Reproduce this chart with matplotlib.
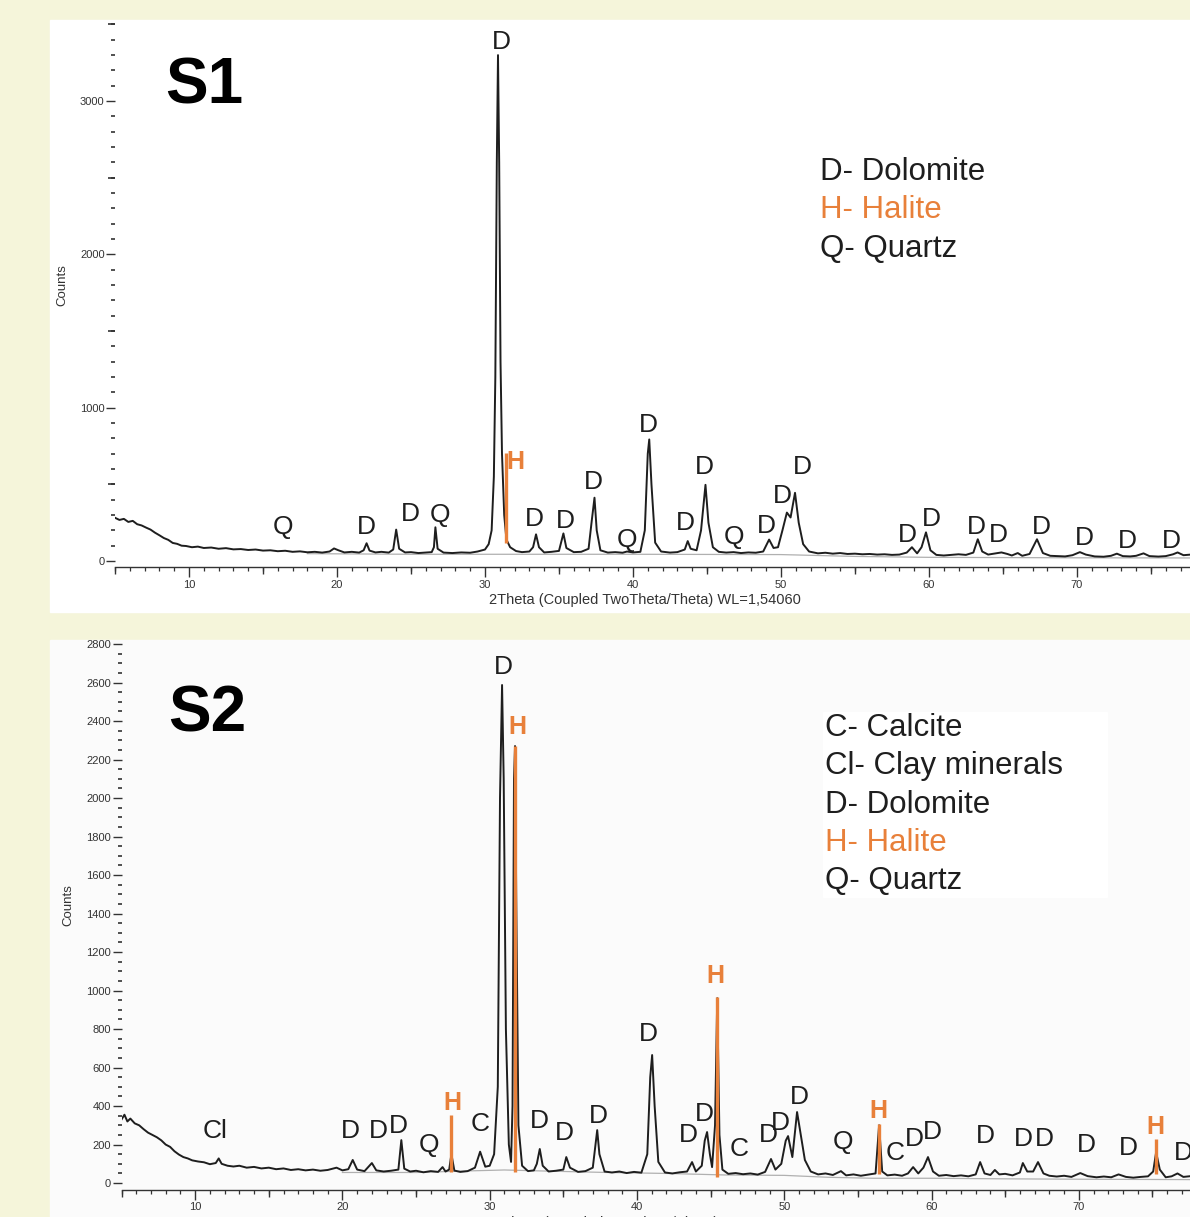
import matplotlib
matplotlib.use("Agg")
import matplotlib.pyplot as plt
from matplotlib.patches import Rectangle
from matplotlib.ticker import MultipleLocator

plt.rcParams['font.family'] = ['Liberation Sans', 'DejaVu Sans']

# ---- S1 trace (2theta, counts) ----
s1_theta = [5.0, 5.3, 5.6, 5.9, 6.2, 6.5, 6.8, 7.1, 7.4, 7.7, 8.0, 8.3, 8.6, 8.9, 9.2, 9.5, 9.8,
            10.2, 10.6, 11.0, 11.5, 12.0, 12.5, 13.0, 13.5, 14.0, 14.5, 15.0, 15.5, 16.0, 16.5,
            17.0, 17.5, 18.0, 18.5, 19.0, 19.5, 19.8, 20.1, 20.5, 21.0, 21.5, 21.8, 22.0, 22.2,
            22.6, 23.0, 23.5, 23.8, 24.0, 24.2, 24.6, 25.0, 25.5, 26.0, 26.4, 26.55, 26.65, 26.8,
            27.2, 27.8, 28.4, 29.0, 29.5, 30.0, 30.25, 30.45, 30.6, 30.7, 30.8, 30.88, 30.96,
            31.05, 31.15, 31.3, 31.45, 31.7, 32.1, 32.5, 33.0, 33.25, 33.45, 33.65, 34.0, 34.5,
            35.0, 35.3, 35.5, 36.0, 36.5, 37.0, 37.2, 37.4, 37.55, 37.8, 38.3, 38.8, 39.3, 39.6,
            40.0, 40.5, 40.8, 41.0, 41.1, 41.25, 41.5, 41.9, 42.5, 43.0, 43.5, 43.7, 43.9, 44.3,
            44.6, 44.9, 45.1, 45.4, 45.8, 46.3, 46.8, 47.3, 47.8, 48.3, 48.8, 49.2, 49.5, 49.8,
            50.1, 50.4, 50.65, 50.95, 51.2, 51.5, 51.9, 52.5, 53.0, 53.5, 54.0, 54.5, 55.0, 55.5,
            56.0, 56.5, 57.0, 57.5, 58.0, 58.5, 58.85, 59.2, 59.5, 59.8, 60.1, 60.5, 61.0, 61.5,
            62.0, 62.5, 63.0, 63.3, 63.6, 64.0, 64.5, 64.9, 65.3, 65.6, 66.0, 66.3, 66.8, 67.3,
            67.7, 68.2, 68.7, 69.2, 69.7, 70.2, 70.6, 71.2, 71.8, 72.3, 72.7, 73.1, 73.6, 74.0,
            74.5, 74.9, 75.5, 76.0, 76.5, 76.8, 77.2, 77.7]
s1_counts = [282, 268, 275, 255, 262, 240, 232, 218, 205, 185, 168, 150, 138, 118, 112, 100, 98,
             90, 94, 85, 88, 80, 84, 76, 78, 72, 75, 68, 70, 64, 67,
             60, 63, 57, 60, 55, 62, 82, 70, 56, 60, 55, 70, 116, 68,
             56, 60, 55, 75, 205, 80, 56, 58, 52, 55, 58, 90, 220, 80,
             55, 52, 56, 54, 62, 75, 110, 200, 550, 1200, 2600, 3300, 2600,
             1300, 700, 300, 140, 90, 65, 58, 62, 90, 174, 90, 56, 60,
             66, 180, 85, 58, 60, 80, 250, 413, 200, 70, 55, 58, 54, 62,
             56, 60, 200, 700, 793, 500, 120, 62, 55, 58, 75, 130, 80, 70,
             200, 497, 250, 90, 60, 55, 58, 52, 56, 54, 62, 140, 85, 90,
             200, 316, 284, 445, 250, 110, 62, 50, 54, 48, 52, 46, 48, 44,
             46, 42, 44, 40, 42, 55, 90, 50, 90, 187, 70, 40, 36, 40,
             44, 40, 55, 142, 62, 42, 50, 56, 46, 36, 52, 34, 46, 142,
             52, 34, 32, 30, 38, 58, 42, 30, 28, 34, 48, 32, 30, 34,
             50, 32, 29, 32, 44, 56, 38, 42]
s1_bg_theta = [18, 25, 30, 40, 50, 55, 60, 70, 77.7]
s1_bg_counts = [48, 44, 44, 44, 42, 30, 24, 21, 20]
s1_halite = [(31.42, 117, 704)]
s1_labels = [("D", 31.1, 3386), ("Q", 16.35, 222), ("D", 21.96, 222), ("D", 24.93, 307),
             ("Q", 26.96, 300), ("H", 32.03, 646), ("D", 33.31, 274), ("D", 35.41, 261),
             ("D", 37.30, 515), ("Q", 39.59, 137), ("D", 41.01, 887), ("D", 43.51, 248),
             ("D", 44.80, 613), ("Q", 46.82, 157), ("D", 48.99, 228), ("D", 50.07, 424),
             ("D", 51.42, 613), ("D", 58.51, 170), ("D", 60.14, 275), ("D", 63.20, 222),
             ("D", 64.66, 170), ("D", 67.57, 222), ("D", 70.47, 150), ("D", 73.38, 130),
             ("D", 76.35, 130)]
s1_legend = [("D- Dolomite", "k"), ("H- Halite", "h"), ("Q- Quartz", "k")]

# ---- S2 trace ----
s2_theta = [5.0, 5.2, 5.4, 5.6, 5.9, 6.2, 6.5, 6.8, 7.1, 7.4, 7.7, 8.0, 8.3, 8.6, 8.9, 9.2, 9.5,
            9.8, 10.2, 10.6, 11.0, 11.4, 11.6, 11.8, 12.2, 12.6, 13.0, 13.5, 14.0, 14.5, 15.0,
            15.5, 16.0, 16.5, 17.0, 17.5, 18.0, 18.5, 19.0, 19.6, 20.0, 20.4, 20.7, 21.0, 21.5,
            22.0, 22.3, 22.8, 23.3, 23.8, 24.0, 24.2, 24.6, 25.0, 25.5, 26.0, 26.5, 26.8, 27.0,
            27.25, 27.4, 27.6, 28.0, 28.5, 29.0, 29.35, 29.7, 30.0, 30.3, 30.55, 30.7, 30.84,
            30.95, 31.1, 31.3, 31.45, 31.55, 31.65, 31.72, 31.8, 31.95, 32.2, 32.6, 33.0, 33.2,
            33.4, 33.6, 34.0, 34.5, 35.0, 35.2, 35.45, 36.0, 36.5, 37.0, 37.15, 37.3, 37.45,
            37.8, 38.3, 38.8, 39.3, 39.8, 40.3, 40.7, 40.9, 41.03, 41.2, 41.45, 41.9, 42.4, 42.9,
            43.4, 43.74, 44.0, 44.4, 44.6, 44.76, 44.95, 45.1, 45.3, 45.45, 45.6, 45.8, 46.2,
            46.7, 47.2, 47.7, 48.2, 48.7, 49.1, 49.4, 49.8, 50.1, 50.26, 50.55, 50.87, 51.1,
            51.4, 51.8, 52.3, 52.8, 53.3, 53.85, 54.2, 54.7, 55.2, 55.7, 56.2, 56.44, 56.65,
            57.0, 57.5, 58.0, 58.4, 58.75, 59.1, 59.45, 59.76, 60.1, 60.5, 61.0, 61.5, 62.0,
            62.5, 63.0, 63.3, 63.6, 64.0, 64.3, 64.6, 65.0, 65.5, 66.0, 66.2, 66.5, 66.9, 67.23,
            67.6, 68.0, 68.5, 69.0, 69.5, 70.1, 70.6, 71.2, 71.7, 72.2, 72.7, 73.2, 73.7, 74.2,
            74.7, 75.05, 75.25, 75.5, 75.9, 76.3, 76.7, 77.1, 77.6]
s2_counts = [330, 355, 320, 335, 310, 300, 280, 262, 250, 238, 222, 200, 188, 165, 148, 135, 128,
             118, 112, 108, 98, 104, 128, 100, 90, 86, 90, 80, 84, 76, 80,
             72, 76, 68, 72, 66, 70, 64, 68, 80, 66, 72, 120, 70, 62,
             104, 66, 60, 64, 70, 223, 75, 60, 64, 56, 62, 58, 83, 60,
             70, 150, 65, 58, 62, 80, 163, 85, 90, 150, 500, 2000, 2587,
             2100, 800, 200, 110, 400, 2100, 2270, 1500, 300, 90, 62, 66, 100,
             177, 90, 60, 64, 70, 135, 80, 58, 62, 80, 180, 275, 150,
             60, 55, 60, 52, 58, 54, 150, 550, 665, 400, 110, 55, 50, 56,
             60, 109, 60, 90, 220, 265, 150, 83, 300, 960, 250, 70, 48,
             52, 46, 50, 44, 58, 125, 70, 100, 220, 244, 135, 369, 260,
             120, 60, 45, 50, 42, 62, 40, 45, 38, 44, 50, 300, 60,
             40, 44, 38, 50, 83, 50, 80, 135, 60, 38, 42, 36, 40,
             35, 45, 109, 50, 42, 68, 45, 48, 40, 55, 104, 60, 60, 109,
             50, 38, 34, 38, 32, 52, 36, 30, 34, 30, 45, 32, 28, 32,
             35, 60, 160, 70, 30, 35, 50, 32, 36]
s2_bg_theta = [20, 25, 28, 31, 34, 38, 42, 46, 50, 53, 56, 60, 65, 70, 77.6]
s2_bg_counts = [55, 55, 62, 68, 62, 55, 50, 42, 40, 30, 25, 25, 22, 20, 18]
s2_halite = [(27.4, 60, 355), (31.72, 60, 2270), (45.45, 31, 969), (56.44, 45, 306), (75.24, 45, 228)]
s2_labels = [("D", 30.91, 2681), ("H", 31.86, 2369), ("Cl", 11.36, 270), ("D", 20.52, 270),
             ("D", 22.42, 270), ("D", 23.78, 296), ("Q", 25.89, 197), ("H", 27.45, 416),
             ("C", 29.35, 306), ("D", 33.35, 322), ("D", 35.05, 260), ("D", 37.36, 348),
             ("D", 40.75, 774), ("D", 43.47, 249), ("D", 44.56, 358), ("H", 45.30, 1075),
             ("C", 46.93, 177), ("D", 48.90, 249), ("D", 49.71, 312), ("D", 51.0, 447),
             ("Q", 53.99, 213), ("H", 56.37, 374), ("C", 57.52, 156), ("D", 58.81, 229),
             ("D", 60.03, 265), ("D", 63.63, 244), ("D", 66.21, 229), ("D", 67.64, 229),
             ("D", 70.49, 197), ("D", 73.34, 182), ("H", 75.17, 291), ("D", 77.07, 156)]
s2_legend = [("C- Calcite", "k"), ("Cl- Clay minerals", "k"), ("D- Dolomite", "k"),
             ("H- Halite", "h"), ("Q- Quartz", "k")]

ORANGE = '#e8803a'
INK = '#1e1e1e'
W, H = 1190, 1217


def fx(px):
    return px / W


def fy(py):
    return 1 - py / H


fig = plt.figure(figsize=(W / 100, H / 100), dpi=100)
fig.patch.set_facecolor('#f5f5da')
fig.add_artist(Rectangle((fx(50), fy(612)), 1 - fx(50), fy(20) - fy(612),
                         transform=fig.transFigure, color='white', zorder=0))
fig.add_artist(Rectangle((fx(50), 0), 1 - fx(50), fy(640),
                         transform=fig.transFigure, color='#fbfbfb', zorder=0))
fig.add_artist(Rectangle((fx(823), fy(897)), fx(1107) - fx(823), fy(712) - fy(897),
                         transform=fig.transFigure, color='white', zorder=0))


def setup(ax, xlim, ylim, ymaj, ymin, ymid=None):
    ax.set_facecolor('none')
    ax.set_xlim(*xlim)
    ax.set_ylim(*ylim)
    for s in ['top', 'right', 'left']:
        ax.spines[s].set_visible(False)
    ax.spines['bottom'].set_color('#333333')
    ax.spines['bottom'].set_linewidth(1.0)
    ax.xaxis.set_major_locator(MultipleLocator(10))
    ax.xaxis.set_minor_locator(MultipleLocator(1))
    ax.yaxis.set_major_locator(MultipleLocator(ymaj))
    ax.yaxis.set_minor_locator(MultipleLocator(ymin))
    ax.tick_params(axis='x', which='major', length=7, width=1, pad=2, labelsize=8,
                   colors='#333333')
    ax.tick_params(axis='x', which='minor', length=3, width=0.9, colors='#333333')
    ax.tick_params(axis='y', which='major', length=6.5, width=1, pad=1, labelsize=8,
                   colors='#333333')
    ax.tick_params(axis='y', which='minor', length=3, width=1.2, colors='#333333')
    secx = ax.secondary_xaxis('bottom')
    secx.spines['bottom'].set_visible(False)
    secx.set_xticks([v for v in range(5, 80, 10)])
    secx.tick_params(length=5, width=1, labelbottom=False, colors='#333333')
    if ymid is not None:
        secy = ax.secondary_yaxis('left')
        secy.spines['left'].set_visible(False)
        secy.set_yticks(ymid)
        secy.tick_params(length=5, width=1.2, labelleft=False, colors='#333333')


def draw(ax, th, ct, bth, bct, halite, labels):
    ax.plot(bth, bct, color='#b0b0b0', lw=0.9, zorder=2)
    ax.plot(th, ct, color=INK, lw=1.4, zorder=3)
    for x, y0, y1 in halite:
        ax.vlines(x, y0, y1, color=ORANGE, lw=2.4, zorder=4)
    for t, x, y in labels:
        if t == 'H':
            ax.text(x, y, t, ha='center', va='center', fontsize=18, fontweight='bold',
                    color=ORANGE, zorder=5)
        else:
            ax.text(x, y, t, ha='center', va='center', fontsize=19, color=INK, zorder=5)


# panel S1
ax1 = fig.add_axes([fx(115), fy(567), 1 - fx(115), fy(24) - fy(567)])
setup(ax1, (5.0, 77.64), (-39, 3503), 1000, 100, [500, 1500, 2500, 3500])
draw(ax1, s1_theta, s1_counts, s1_bg_theta, s1_bg_counts, s1_halite, s1_labels)

# panel S2
ax2 = fig.add_axes([fx(121.5), fy(1190), 1 - fx(121.5), fy(644) - fy(1190)])
setup(ax2, (5.0, 77.55), (-36, 2800), 200, 50)
draw(ax2, s2_theta, s2_counts, s2_bg_theta, s2_bg_counts, s2_halite, s2_labels)

fig.text(fx(204), fy(86), 'S1', fontsize=46, fontweight='bold', ha='center', va='center')
fig.text(fx(207), fy(714), 'S2', fontsize=46, fontweight='bold', ha='center', va='center')
fig.text(fx(62), fy(285), 'Counts', fontsize=9.5, rotation=90, ha='center', va='center',
         color='#333333')
fig.text(fx(68), fy(905), 'Counts', fontsize=9.5, rotation=90, ha='center', va='center',
         color='#333333')
fig.text(fx(645), fy(600), '2Theta (Coupled TwoTheta/Theta) WL=1,54060', fontsize=10.5,
         ha='center', va='center', color='#333333')
fig.text(fx(650), fy(1223), '2Theta (Coupled TwoTheta/Theta) WL=1,54060', fontsize=10.5,
         ha='center', va='center', color='#333333')

for i, (t, c) in enumerate(s1_legend):
    fig.text(fx(820), fy(172 + 38.5 * i), t, fontsize=22.5, ha='left', va='center',
             color=ORANGE if c == 'h' else INK)
for i, (t, c) in enumerate(s2_legend):
    fig.text(fx(825), fy(728 + 38.3 * i), t, fontsize=22.5, ha='left', va='center',
             color=ORANGE if c == 'h' else INK)

fig.savefig('out.png', dpi=100, facecolor=fig.get_facecolor())
